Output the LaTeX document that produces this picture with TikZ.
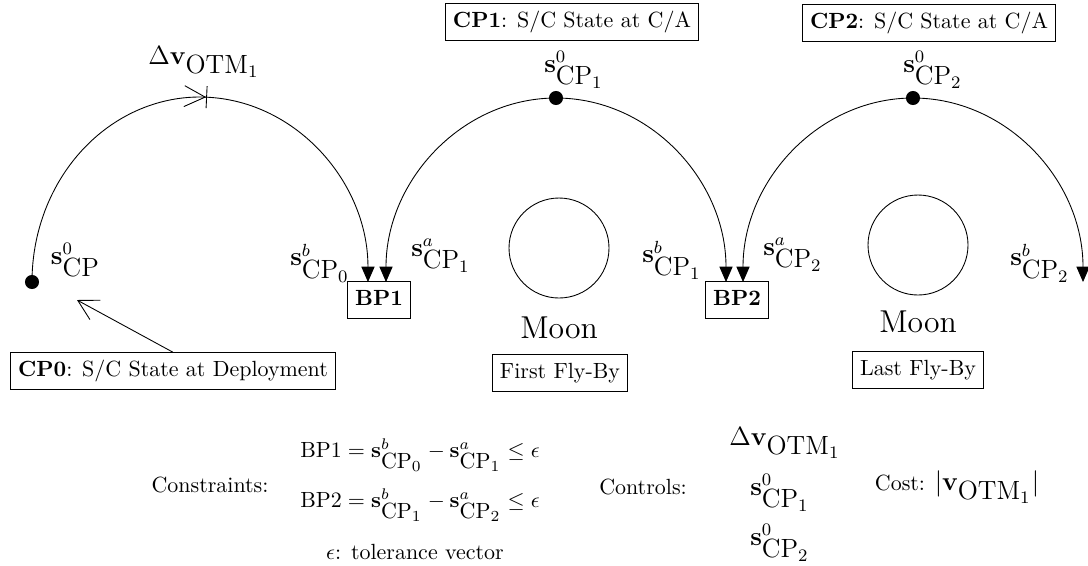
\documentclass[tikz,border=0pt]{standalone}
\usetikzlibrary{arrows.meta}
\newcommand{\svec}[3]{$\mathbf{s}^{#1}_{\mbox{#2$_{#3}$}}$}
\begin{document}
\begin{tikzpicture}[x=0.455pt,y=-0.455pt,
  box/.style={draw, text height=7.5pt, text depth=2.5pt},
  lbl/.style={font=\large},
  tri/.style={-{Triangle[length=7pt,width=6pt]}},
  otm/.style={-{Straight Barb[length=9.5pt,width=9.5pt]Bar[width=10pt]}},
  dotn/.style={circle, fill, inner sep=0pt, minimum size=6.4pt},
]
\useasboundingbox (0,0) rectangle (1088,565);

% boxes
\node[box] (cp0) at (173,371) {\textbf{CP0}: S/C State at Deployment};
\node[box] (cp1) at (572,22) {\textbf{CP1}: S/C State at C/A};
\node[box] (cp2) at (929,23) {\textbf{CP2}: S/C State at C/A};
\node[box] (bp1) at (379,300) {\textbf{BP1}};
\node[box] (bp2) at (737,300) {\textbf{BP2}};
\node[box] (fb1) at (560,373) {First Fly-By};
\node[box] (fb2) at (918,370) {Last Fly-By};

% moons
\node[circle, draw, minimum size=45.5pt, inner sep=0pt] (moon1) at (559,248) {};
\node[circle, draw, minimum size=45.5pt, inner sep=0pt] (moon2) at (918,245) {};
\node[font=\Large] (moon1lbl) at (559,328) {Moon};
\node[font=\Large] (moon2lbl) at (918,322) {Moon};

% trajectory points
\coordinate (a0) at (32,282);
\coordinate (t0) at (207,97.2);
\coordinate (t1) at (556,98);
\coordinate (t2) at (913,98);

% arcs
\draw[otm] (a0) arc[start angle=180, end angle=272.4, x radius=168, y radius=185];
\draw[tri] (t0) arc[start angle=272.4, end angle=360, x radius=168, y radius=185];
\draw[tri] (t1) arc[start angle=270, end angle=180, x radius=170, y radius=184];
\draw[tri] (t1) arc[start angle=270, end angle=360, x radius=170, y radius=184];
\draw[tri] (t2) arc[start angle=270, end angle=180, x radius=170, y radius=184];
\draw[tri] (t2) arc[start angle=270, end angle=360, x radius=170, y radius=184];

\node[dotn] (d0) at (a0) {};
\node[dotn] (d1) at (t1) {};
\node[dotn] (d2) at (t2) {};

% CP0 pointer
\coordinate (cp0tip) at (77,300);
\draw[-{Straight Barb[length=9pt,width=10pt]}] (cp0.north) -- (cp0tip);

% labels
\node[lbl] (ls0) at (76,262) {\svec{0}{CP}{}};
\node[lbl] (ldv) at (204,62) {$\Delta\mathbf{v}_{\mbox{OTM$_1$}}$};
\node[lbl] (lsb0) at (320,263) {\svec{b}{CP}{0}};
\node[lbl] (lsa1) at (441,256) {\svec{a}{CP}{1}};
\node[lbl] (ls01) at (574,70) {\svec{0}{CP}{1}};
\node[lbl] (lsb1) at (672,260) {\svec{b}{CP}{1}};
\node[lbl] (lsa2) at (793,255) {\svec{a}{CP}{2}};
\node[lbl] (ls02) at (933,70) {\svec{0}{CP}{2}};
\node[lbl] (lsb2) at (1040,263) {\svec{b}{CP}{2}};

% bottom text
\node (constr) at (210,485) {Constraints:};
\node (eq1) at (420,455) {$\mathrm{BP1}=\mathbf{s}^b_{\mbox{CP$_0$}}-\mathbf{s}^a_{\mbox{CP$_1$}}\le\epsilon$};
\node (eq2) at (420,505) {$\mathrm{BP2}=\mathbf{s}^b_{\mbox{CP$_1$}}-\mathbf{s}^a_{\mbox{CP$_2$}}\le\epsilon$};
\node (tol) at (415,552) {$\epsilon$: tolerance vector};
\node (ctrl) at (643,487) {Controls:};
\node[lbl] (c1) at (785,443) {$\Delta\mathbf{v}_{\mbox{OTM$_1$}}$};
\node[lbl] (c2) at (780,493) {\svec{0}{CP}{1}};
\node[lbl] (c3) at (780,543) {\svec{0}{CP}{2}};
\node (cost) at (957,487) {Cost: {\large$|\mathbf{v}_{\mbox{OTM$_1$}}|$}};
\end{tikzpicture}
\end{document}
